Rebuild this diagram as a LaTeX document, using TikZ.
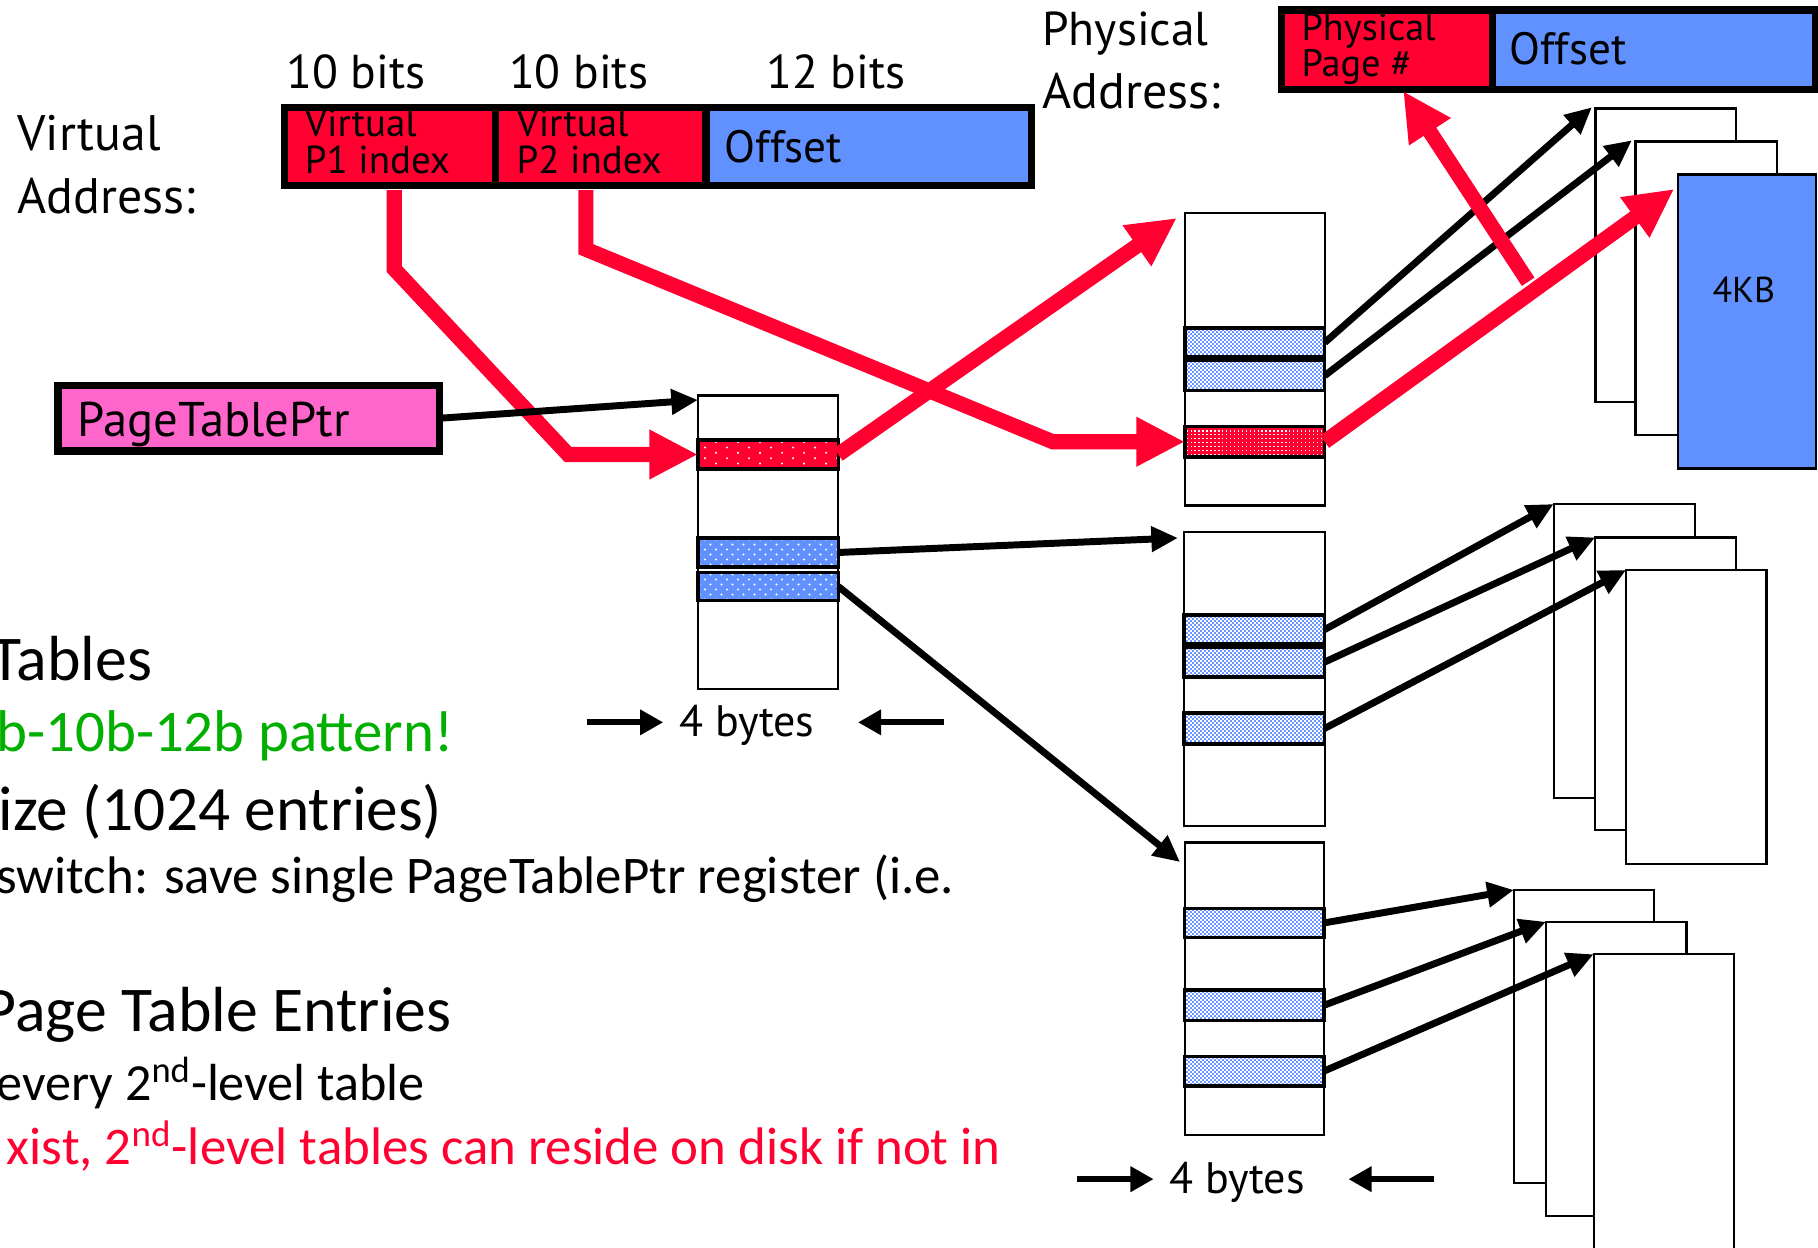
\documentclass[tikz,border=0pt]{standalone}
\usepackage{fontspec}
\setmainfont{Carlito}
\newfontfamily\gill{PT Sans}
\usetikzlibrary{arrows.meta,patterns,calc}
\definecolor{vred}{HTML}{FF0030}
\definecolor{vblue}{HTML}{6190FF}
\definecolor{vpink}{HTML}{FF66CC}
\definecolor{vgreen}{HTML}{00AF00}
\pgfdeclarepatternformonly{sparsedots}{\pgfqpoint{-1pt}{-1pt}}{\pgfqpoint{10.5pt}{5.6pt}}{\pgfqpoint{9.5pt}{4.6pt}}{%
  \pgfpathcircle{\pgfqpoint{0pt}{0pt}}{0.5pt}%
  \pgfpathcircle{\pgfqpoint{4.75pt}{2.3pt}}{0.5pt}%
  \pgfusepath{fill}}
\pgfdeclarepatternformonly{bluedots}{\pgfqpoint{-1pt}{-1pt}}{\pgfqpoint{5.75pt}{5.3pt}}{\pgfqpoint{4.75pt}{4.3pt}}{%
  \pgfpathcircle{\pgfqpoint{0pt}{0pt}}{0.5pt}%
  \pgfpathcircle{\pgfqpoint{2.375pt}{2.15pt}}{0.5pt}%
  \pgfusepath{fill}}
\pgfdeclarepatternformonly{densedots}{\pgfqpoint{-0.5pt}{-0.5pt}}{\pgfqpoint{2.2pt}{2.2pt}}{\pgfqpoint{1.7pt}{1.7pt}}{%
  \pgfpathrectangle{\pgfqpoint{0pt}{0pt}}{\pgfqpoint{0.6pt}{0.6pt}}%
  \pgfusepath{fill}}
\pgfdeclarepatternformonly{finechecker}{\pgfqpoint{0pt}{0pt}}{\pgfqpoint{1.72pt}{1.72pt}}{\pgfqpoint{1.72pt}{1.72pt}}{%
  \pgfpathrectangle{\pgfqpoint{0pt}{0pt}}{\pgfqpoint{0.86pt}{0.86pt}}%
  \pgfpathrectangle{\pgfqpoint{0.86pt}{0.86pt}}{\pgfqpoint{0.86pt}{0.86pt}}%
  \pgfusepath{fill}}
\newcommand\fsz[1]{\fontsize{#1}{#1}\selectfont}
\newcommand\bx[6]{\node[#1, minimum width={(#5-#3)*0.5pt}, minimum height={(#6-#4)*0.5pt}] (#2) at ({(#3+#5)/2},{(#4+#6)/2}) {};}
\tikzset{
  nb/.style={inner sep=0pt, outer sep=0pt},
  tbl/.style={nb, draw, line width=1pt, fill=white},
  pagebox/.style={nb, draw, line width=1pt, fill=white},
  rrow/.style={nb, draw, line width=1.5pt, preaction={fill=vred}, pattern=sparsedots, pattern color=white},
  brow/.style={nb, draw, line width=1.5pt, preaction={fill=vblue}, pattern=bluedots, pattern color=white},
  crow/.style={nb, draw, line width=1.5pt, preaction={fill=vblue}, pattern=finechecker, pattern color=white},
  drow/.style={nb, draw, line width=1.5pt, preaction={fill=vred}, pattern=densedots, pattern color=white},
  barline/.style={line width=3.2pt, line join=miter},
  txt/.style={anchor=base west, inner sep=0pt, outer sep=0pt},
  redarr/.style={draw=vred, line width=6.5pt, line join=miter, -{Triangle[length=21pt,width=20pt]}},
  blkarr/.style={draw, line width=3pt, -{Triangle[length=11.5pt,width=10.5pt]}},
  byarr/.style={draw, line width=2.6pt, -{Triangle[length=10pt,width=10.5pt]}}
}
\begin{document}
\begin{tikzpicture}[x=0.5pt,y=-0.5pt]
\useasboundingbox (0,0) rectangle (1568,1076);
\clip (0,0) rectangle (1568,1076);

% ---- virtual address bar
\bx{nb, fill=vred}{vp1}{245.5}{92.5}{427.6}{160}
\bx{nb, fill=vred}{vp2}{427.6}{92.5}{609}{160}
\bx{nb, fill=vblue}{voff}{609}{92.5}{889.5}{160}
\node[txt, font=\gill\fsz{16.8}] (v1a) at (263,118) {Virtual};
\node[txt, font=\gill\fsz{16.8}] (v1b) at (263,149.5) {P1 index};
\node[txt, font=\gill\fsz{16.8}] (v2a) at (445.6,118) {Virtual};
\node[txt, font=\gill\fsz{16.8}] (v2b) at (445.6,149.5) {P2 index};
\node[txt, font=\gill\fsz{19.5}] (vo) at (625,140) {Offset};
\draw[barline] (vp1.north west) rectangle (voff.south east);
\draw[barline] (vp1.north east) -- (vp1.south east);
\draw[barline] (vp2.north east) -- (vp2.south east);

% ---- physical address bar
\bx{nb, fill=vred}{pp}{1105.5}{8.5}{1287}{77}
\bx{nb, fill=vblue}{poff}{1287}{8.5}{1566}{77}
\node[txt, font=\gill\fsz{16.5}] (ppa) at (1122.6,34.5) {Physical};
\node[txt, font=\gill\fsz{16.5}] (ppb) at (1122.6,66) {Page \#};
\node[txt, font=\gill\fsz{19.5}] (po) at (1302,56) {Offset};
\draw[barline] (pp.north west) rectangle (poff.south east);
\draw[barline] (pp.north east) -- (pp.south east);

% ---- labels
\node[txt, font=\gill\fsz{21.5}] (va1) at (15,130) {Virtual};
\node[txt, font=\gill\fsz{21.5}] (va2) at (15,184.5) {Address:};
\node[txt, font=\gill\fsz{20.5}] (bt1) at (247,76) {10 bits};
\node[txt, font=\gill\fsz{20.5}] (bt2) at (439,76) {10 bits};
\node[txt, font=\gill\fsz{20.5}] (bt3) at (661,76) {12 bits};
\node[txt, font=\gill\fsz{20.5}] (pa1) at (899,39) {Physical};
\node[txt, font=\gill\fsz{21.5}] (pa2) at (899,93.5) {Address:};

% ---- PageTablePtr
\bx{nb, draw, fill=vpink, line width=3.25pt}{ptr}{50}{332.5}{379}{389}
\node[txt, font=\gill\fsz{21}] (ptrt) at (67,376.6) {PageTablePtr};

% ---- first level table
\bx{tbl}{t1}{602}{341}{723}{594}
\bx{rrow}{t1a}{602}{379.5}{723}{404.5}
\bx{brow}{t1b}{602}{464}{723}{489}
\bx{brow}{t1c}{602}{493.6}{723}{518}

% ---- second level tables
\bx{tbl}{t2}{1022}{184}{1142.5}{436}
\bx{crow}{t2a}{1022}{283}{1142.5}{308}
\bx{crow}{t2b}{1022}{311}{1142.5}{337}
\bx{drow}{t2c}{1022}{368}{1142.5}{394}

\bx{tbl}{t3}{1021}{459}{1142.5}{712.5}
\bx{crow}{t3a}{1021}{530.5}{1142.5}{555.5}
\bx{crow}{t3b}{1021}{558}{1142.5}{584}
\bx{crow}{t3c}{1021}{615}{1142.5}{641.5}

\bx{tbl}{t4}{1021.8}{726.5}{1142}{979}
\bx{crow}{t4a}{1021.8}{783.5}{1142}{808.5}
\bx{crow}{t4b}{1021.8}{854}{1142}{880}
\bx{crow}{t4c}{1021.8}{911}{1142}{936.5}

% ---- pages
\bx{pagebox}{pg1}{1376}{93.5}{1497.5}{347}
\bx{pagebox}{pg2}{1410.5}{122}{1532.5}{375}
\bx{pagebox, fill=vblue}{pg3}{1447}{150.5}{1566}{404}
\node[font=\gill\fsz{15.5}, nb] (kb) at (1504,250) {4KB};

\bx{pagebox}{pA}{1340}{434.7}{1462}{688}
\bx{pagebox}{pB}{1375.8}{463.5}{1497}{716}
\bx{pagebox}{pC}{1402.5}{491.6}{1523.6}{745}

\bx{pagebox}{pD}{1305.7}{767.6}{1426.4}{1020.6}
\bx{pagebox}{pE}{1333.5}{795}{1454.7}{1048.5}
\bx{pagebox}{pF}{1374.5}{823}{1495.6}{1090}

% ---- red arrows (under black ones)
\coordinate (r1s) at ($(vp1.south)+(3.5,4)$);
\coordinate (r1a) at (340,232);
\coordinate (r1b) at (490,392);
\draw[redarr] (r1s) -- (r1a) -- (r1b) -- (t1a.west);
\coordinate (r2s) at ($(vp2.south)+(-13,4)$);
\coordinate (r2a) at (505.3,215);
\coordinate (r2b) at (908,381);
\draw[redarr] (r2s) -- (r2a) -- (r2b) -- (t2c.west);
\draw[redarr] (t1a.east) -- ($(t2.north west)+(-7,4)$);

% ---- black arrows
\draw[blkarr] (ptr.east) -- ($(t1.north west)+(0,4)$);
\draw[blkarr] (t1b.east) -- ($(t3.north west)+(-5,5)$);
\draw[blkarr] (t1c.east) -- ($(t4.north west)+(-4,17)$);
\draw[blkarr] (t2a.east) -- ($(pg1.north west)+(-3,-1)$);
\draw[blkarr] (t2b.east) -- ($(pg2.north west)+(-3,-1)$);
\draw[blkarr] (t3a.east) -- (pA.north west);
\draw[blkarr] (t3b.east) -- (pB.north west);
\draw[blkarr] (t3c.east) -- (pC.north west);
\draw[blkarr] (t4a.east) -- (pD.north west);
\draw[blkarr] (t4b.east) -- (pE.north west);
\draw[blkarr] (t4c.east) -- (pF.north west);

% ---- red arrows on top
\draw[redarr] (t2c.east) -- ($(pg3.north west)+(-3,12.5)$);
\coordinate (r5s) at (1318,243);
\draw[redarr] (r5s) -- ($(pp.south)+(14,1.5)$);

% ---- 4 bytes
\node[txt, font=\gill\fsz{19}] (by1) at (586,635) {4 bytes};
\coordinate (a1s) at (506,623); \coordinate (a1e) at (572,623);
\coordinate (a2s) at (814,623); \coordinate (a2e) at (740,623);
\draw[byarr] (a1s) -- (a1e);
\draw[byarr] (a2s) -- (a2e);
\node[txt, font=\gill\fsz{19}] (by2) at (1009,1029) {4 bytes};
\coordinate (a3s) at (929,1017); \coordinate (a3e) at (995,1017);
\coordinate (a4s) at (1237,1017); \coordinate (a4e) at (1163,1017);
\draw[byarr] (a3s) -- (a3e);
\draw[byarr] (a4s) -- (a4e);

% ---- cut-off slide text
\node[txt, font=\fsz{27.5}] (tx1) at (-8,587) {Tables};
\node[txt, font=\fsz{25.4}, text=vgreen] (tx2) at (-3,648) {b-10b-12b pattern!};
\node[txt, font=\fsz{27.3}] (tx3) at (-1,716) {ize (1024 entries)};
\node[txt, font=\fsz{22.8}] (tx4) at (-3,771) {switch: save single PageTablePtr register (i.e.};
\node[txt, font=\fsz{27.5}] (tx5) at (-14,890) {Page Table Entries};
\node[txt, font=\fsz{22.5}] (tx6) at (-3,949) {every 2\textsuperscript{nd}-level table};
\node[txt, font=\fsz{22.8}, text=vred] (tx7) at (6,1004) {xist, 2\textsuperscript{nd}-level tables can reside on disk if not in};
\end{tikzpicture}
\end{document}
